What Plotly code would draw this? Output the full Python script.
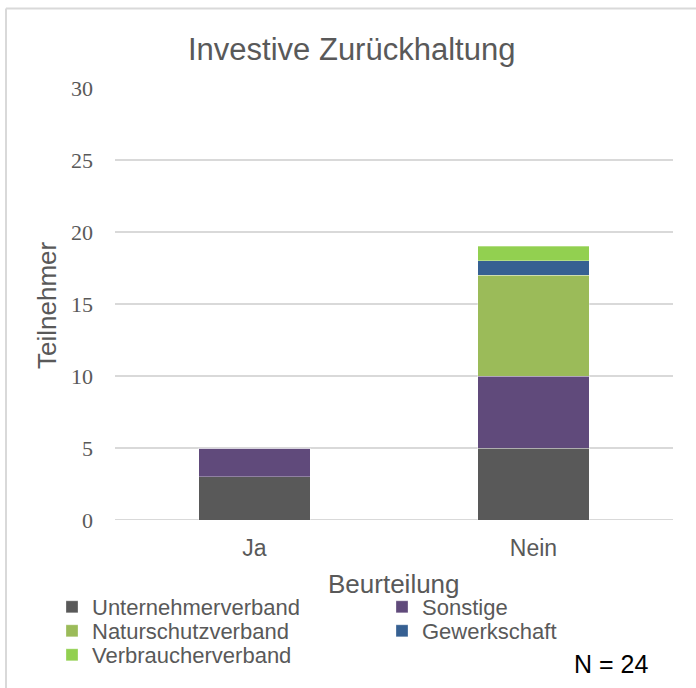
import plotly.graph_objects as go

categories = ["Ja", "Nein"]
unternehmerverband = [3, 5]
sonstige = [2, 5]
naturschutzverband = [0, 7]
gewerkschaft = [0, 1]
verbraucherverband = [0, 1]
y_ticks = [0, 5, 10, 15, 20, 25, 30]

W, H = 696, 688
L, R, T, B = 115, 23, 88, 168
PW, PH = W - L - R, H - T - B

def px(x):
    return (x - L) / PW

def py(y):
    return (H - B - y) / PH

TXT = "#595959"
SANS = "Liberation Sans, Arial, sans-serif"
SERIF = "Liberation Serif, Times New Roman, serif"

series = [
    ("Unternehmerverband", unternehmerverband, "#595959", "legend", 52, 607),
    ("Sonstige", sonstige, "#604A7B", "legend2", 382, 607),
    ("Naturschutzverband", naturschutzverband, "#9BBB59", "legend3", 52, 631),
    ("Gewerkschaft", gewerkschaft, "#366092", "legend4", 382, 631),
    ("Verbraucherverband", verbraucherverband, "#92D050", "legend5", 52, 655),
]

fig = go.Figure()
legends = {}
for name, vals, col, lg, lx, ly in series:
    fig.add_trace(go.Bar(
        x=categories, y=vals, name=name, legend=lg,
        marker=dict(color=col, line=dict(color="rgba(255,255,255,0.3)", width=1)),
    ))
    legends[lg] = dict(
        orientation="h", xref="paper", yref="paper", xanchor="left", yanchor="middle",
        x=px(lx), y=py(ly),
        font=dict(family=SANS, size=22, color=TXT), bgcolor="rgba(0,0,0,0)",
        borderwidth=0, itemclick=False,
    )

fig.update_layout(
    width=W, height=H,
    margin=dict(l=L, r=R, t=T, b=B, autoexpand=False),
    paper_bgcolor="white", plot_bgcolor="white",
    barmode="stack", bargap=0.6,
    showlegend=True,
    xaxis=dict(
        showgrid=False, zeroline=False, showline=False, ticks="",
        tickfont=dict(family=SANS, size=23, color=TXT), ticklabelstandoff=12,
    ),
    yaxis=dict(
        range=[0, 30], tickvals=y_ticks, showgrid=True, gridcolor="#D9D9D9", gridwidth=2,
        zeroline=False, showline=False, ticks="",
        tickfont=dict(family=SERIF, size=22, color=TXT), ticklabelstandoff=21,
    ),
    shapes=[
        dict(type="line", xref="paper", yref="paper", x0=px(6), x1=px(W), y0=py(8.5), y1=py(8.5),
             line=dict(color="#D9D9D9", width=2)),
        dict(type="line", xref="paper", yref="paper", x0=px(6), x1=px(6), y0=py(8.5), y1=py(H),
             line=dict(color="#D9D9D9", width=2)),
        dict(type="line", xref="paper", yref="y", x0=0, x1=1, y0=0, y1=0,
             line=dict(color="#D9D9D9", width=2), layer="below"),
    ],
    annotations=[
        dict(text="Investive Zurückhaltung", xref="paper", yref="paper", x=px(351), y=py(49),
             xanchor="center", yanchor="middle", showarrow=False,
             font=dict(family=SANS, size=31, color=TXT)),
        dict(text="Teilnehmer", xref="paper", yref="paper", x=px(47), y=py(305),
             xanchor="center", yanchor="middle", showarrow=False, textangle=-90,
             font=dict(family=SANS, size=26, color=TXT)),
        dict(text="Beurteilung", xref="paper", yref="paper", x=px(394), y=py(584),
             xanchor="center", yanchor="middle", showarrow=False,
             font=dict(family=SANS, size=26, color=TXT)),
        dict(text="N = 24", xref="paper", yref="paper", x=px(650), y=py(664),
             xanchor="right", yanchor="middle", showarrow=False,
             font=dict(family=SANS, size=25, color="black")),
    ],
)
fig.update_layout(**legends)

fig.write_html("out.html", config={"displayModeBar": False},
               post_script="document.body.style.margin='0';")
